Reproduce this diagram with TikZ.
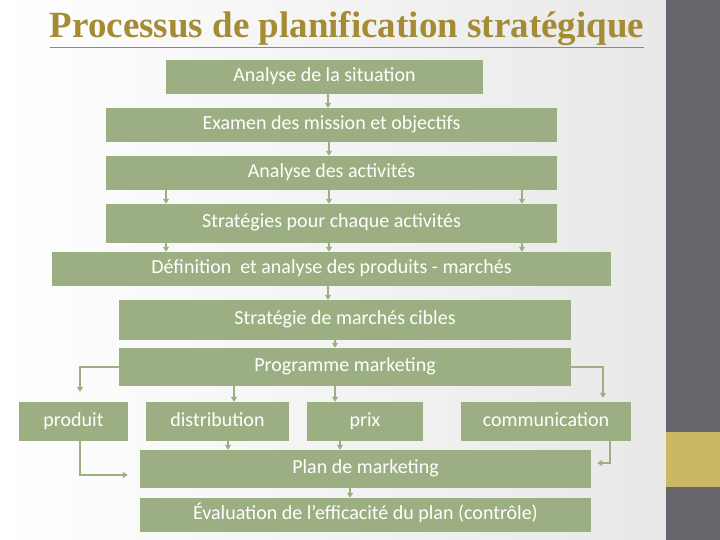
\documentclass[tikz,border=0pt]{standalone}
\usepackage{fontspec}
\setmainfont{Carlito}
\newfontfamily\titlefont{Liberation Serif}
\usepackage{tikz}
\usetikzlibrary{arrows.meta}
\definecolor{boxgreen}{HTML}{9CAF82}
\definecolor{titlegold}{HTML}{A48B34}
\definecolor{panelgray}{HTML}{67646B}
\definecolor{panelyellow}{HTML}{CBB864}
\tikzset{
  box/.style={fill=boxgreen, text=white, inner sep=0pt, text height=12pt, text depth=3pt,
    font=\fontsize{20}{24}\selectfont},
  arr/.style={draw=boxgreen, line width=1.7pt, -{Triangle[length=5pt,width=6pt]}}
}

\begin{document}
\begin{tikzpicture}[x=1pt,y=-1pt]
\useasboundingbox (0,0) rectangle (720,540);
% background and side panel
\shade[left color=white, right color=black!9] (0,0) rectangle (666,540);
\fill[panelgray] (666,0) rectangle (720,540);
\fill[panelyellow] (666,432) rectangle (720,487);
% title
\node[font=\titlefont\bfseries\fontsize{37}{42}\selectfont, text=titlegold] (title) at (347,30) {\underline{Processus de planification stratégique}};
% draws boxes
\node[box, minimum width=317pt, minimum height=34pt] (sit) at (324.5,77) {Analyse de la situation};
\node[box, minimum width=451pt, minimum height=34pt] (exam) at (331.5,125) {Examen des mission et objectifs};
\node[box, minimum width=451pt, minimum height=34pt] (act) at (331.5,173) {Analyse des activités};
\node[box, minimum width=451pt, minimum height=39pt] (strat) at (331.5,223.5) {Stratégies pour chaque activités};
\node[box, minimum width=559pt, minimum height=34pt] (def) at (331.5,269) {Définition\ \ et analyse des produits - marchés};
\node[box, minimum width=452pt, minimum height=40pt] (cib) at (345,320) {Stratégie de marchés cibles};
\node[box, minimum width=452pt, minimum height=38pt] (prog) at (345,367) {Programme marketing};
\node[box, minimum width=109pt, minimum height=39pt] (prod) at (73.5,421.5) {produit};
\node[box, minimum width=143pt, minimum height=39pt] (dist) at (217.5,421.5) {distribution};
\node[box, minimum width=116pt, minimum height=39pt] (prix) at (365,421.5) {prix};
\node[box, minimum width=170pt, minimum height=39pt] (comm) at (546,421.5) {communication};
\node[box, minimum width=451pt, minimum height=38pt] (plan) at (365.5,469) {Plan de marketing};
\node[box, minimum width=451pt, minimum height=34pt] (eval) at (365.5,515) {Évaluation de l’efficacité du plan (contrôle)};
% draws arrows
\draw[arr] (328,0 |- sit.south) -- (328,0 |- exam.north);
\draw[arr] (329,0 |- exam.south) -- (329,0 |- act.north);
\foreach \x in {166,329,522} {
  \draw[arr] (\x,0 |- act.south) -- (\x,0 |- strat.north);
  \draw[arr] (\x,0 |- strat.south) -- (\x,0 |- def.north);
}
\draw[arr] (328,0 |- def.south) -- (328,0 |- cib.north);
\draw[arr] (335,0 |- cib.south) -- (335,0 |- prog.north);
\draw[arr, shorten >=10pt] (prog.west) -| (80,0 |- prod.north);
\draw[arr] (234,0 |- prog.south) -- (234,0 |- dist.north);
\draw[arr] (335,0 |- prog.south) -- (335,0 |- prix.north);
\draw[arr, shorten >=4pt] (prog.east) -| (603,0 |- comm.north);
\draw[arr, shorten >=12pt] (80,0 |- prod.south) |- (plan.west |- 0,475);
\draw[arr] (228,0 |- dist.south) -- (228,0 |- plan.north);
\draw[arr] (340,0 |- prix.south) -- (340,0 |- plan.north);
\draw[arr, shorten >=6pt] (610,0 |- comm.south) |- (plan.east |- 0,463);
\draw[arr] (350,0 |- plan.south) -- (350,0 |- eval.north);
\end{tikzpicture}
\end{document}
